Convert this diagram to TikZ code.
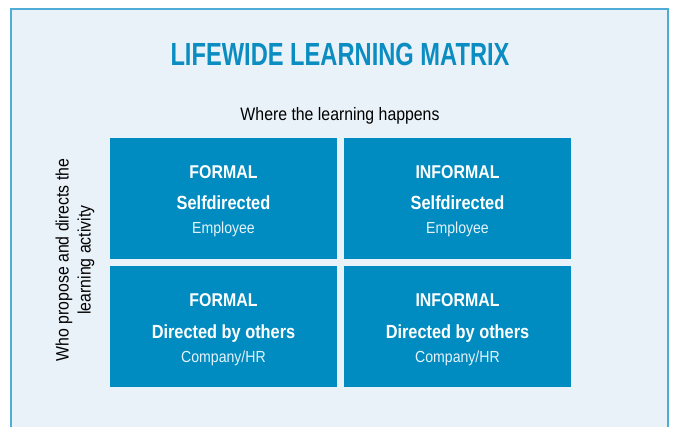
\documentclass[tikz,border=0pt]{standalone}
\usepackage{fontspec}
\setmainfont{Liberation Sans}[FakeStretch=0.88]
\newfontfamily\titlefont{Liberation Sans}[FakeStretch=0.74,FakeBold=0]
\newfontfamily\boxbold{Liberation Sans}[FakeStretch=0.86]
\definecolor{panelbg}{HTML}{E9F1F9}
\definecolor{panelline}{HTML}{4FACD6}
\definecolor{boxblue}{HTML}{008CC1}
\definecolor{titleblue}{HTML}{0B8DC2}
\definecolor{lightwhite}{HTML}{E6F3FA}
\tikzset{
  cell/.style={fill=boxblue, draw=none},
  head/.style={anchor=base, text=white, font=\boxbold\fontsize{18.5}{20}\selectfont\bfseries, inner sep=0pt},
  sub/.style={anchor=base, text=white, font=\boxbold\fontsize{19}{21}\selectfont\bfseries, inner sep=0pt},
  who/.style={anchor=base, text=lightwhite, font=\fontsize{16}{18}\selectfont, inner sep=0pt},
}
\begin{document}
\begin{tikzpicture}[x=1pt,y=-1pt]
\useasboundingbox (0,0) rectangle (673,427);
\fill[white] (0,0) rectangle (673,427);
\fill[panelbg] (11,9) rectangle (668,427);
\draw[panelline, line width=1.2pt] (11,427) -- (11,9) -- (668,9) -- (668,427);
\node[anchor=base, text=titleblue, inner sep=0pt, font=\titlefont\fontsize{32}{34}\selectfont\bfseries] (title) at (340,66) {LIFEWIDE LEARNING MATRIX};
\node[anchor=base, inner sep=0pt, font=\fontsize{18}{20}\selectfont] (where) at (340,121) {Where the learning happens};
\node[rotate=90, align=center, inner sep=0pt, font=\fontsize{18}{22}\selectfont] (whod) at (75,260) {Who propose and directs the\\learning activity};
% cells
\path[cell] (110,138) rectangle (337,259);
\path[cell] (344,138) rectangle (571,259);
\path[cell] (110,266) rectangle (337,387);
\path[cell] (344,266) rectangle (571,387);
\node[head] (h1) at (223.5,178.3) {FORMAL};
\node[sub] (s1) at (223.5,210) {Selfdirected};
\node[who] (w1) at (223.5,233.3) {Employee};
\node[head] (h2) at (457.5,178.3) {INFORMAL};
\node[sub] (s2) at (457.5,210) {Selfdirected};
\node[who] (w2) at (457.5,233.3) {Employee};
\node[head] (h3) at (223.5,306.5) {FORMAL};
\node[sub] (s3) at (223.5,338.3) {Directed by others};
\node[who] (w3) at (223.5,362.5) {Company/HR};
\node[head] (h4) at (457.5,306.5) {INFORMAL};
\node[sub] (s4) at (457.5,338.3) {Directed by others};
\node[who] (w4) at (457.5,362.5) {Company/HR};
\end{tikzpicture}
\end{document}
